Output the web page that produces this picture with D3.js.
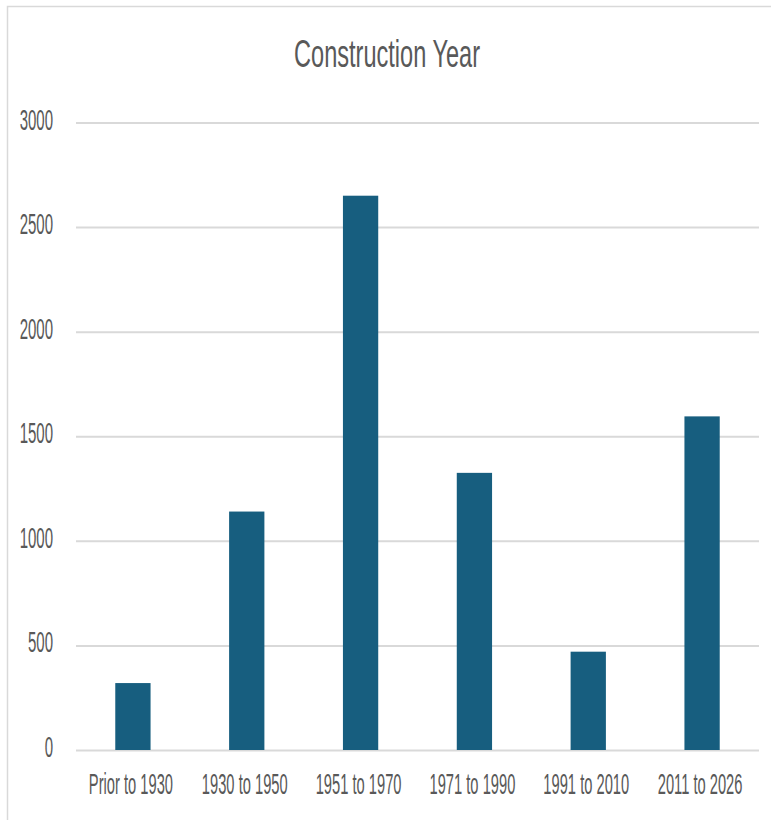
<!DOCTYPE html>
<html>
<head>
<meta charset="utf-8">
<script src="https://cdn.jsdelivr.net/npm/d3@7"></script>
<style>
  body { margin: 0; background: #fff; }
  text { font-family: "Liberation Sans", Arial, sans-serif; fill: #595959; }
</style>
</head>
<body>
<svg width="771" height="820"></svg>
<script>
// chart data
var categories = ["Prior to 1930", "1930 to 1950", "1951 to 1970", "1971 to 1990", "1991 to 2010", "2011 to 2026"];
var counts = [320, 1140, 2650, 1325, 470, 1595];
var yTicks = [0, 500, 1000, 1500, 2000, 2500, 3000];

var svg = d3.select("svg"),
    margin = {top: 122.5, right: 12, bottom: 70, left: 76},
    width = +svg.attr("width") - margin.left - margin.right,
    height = +svg.attr("height") - margin.top - margin.bottom;

// outer chart frame (only top and left edges fall inside the picture)
svg.append("rect")
    .attr("x", 7.5)
    .attr("y", 6.5)
    .attr("width", 900)
    .attr("height", 900)
    .attr("fill", "none")
    .attr("stroke", "#d9d9d9")
    .attr("stroke-width", 1.5);

var x = d3.scaleBand().domain(categories).range([0, width]).paddingInner(0.69).paddingOuter(0.345),
    y = d3.scaleLinear().domain([0, 3000]).range([height, 0]);

var g = svg.append("g")
    .attr("transform", "translate(" + margin.left + "," + margin.top + ")");

// title
svg.append("text")
    .attr("transform", "translate(387,67) scale(0.62,1)")
    .attr("text-anchor", "middle")
    .style("font-size", "38px")
    .text("Construction Year");

// y axis with gridlines
var yAxis = g.append("g")
    .attr("class", "axis axis--y")
    .call(d3.axisLeft(y).tickValues(yTicks).tickFormat(d3.format("d")).tickSize(-width).tickPadding(0));
yAxis.select(".domain").remove();
yAxis.selectAll(".tick line")
    .attr("stroke", "#d9d9d9")
    .attr("stroke-width", 2);
yAxis.selectAll(".tick text")
    .attr("x", 0)
    .attr("dy", null)
    .attr("transform", "translate(-23,6.5) scale(0.5,1)")
    .style("font-size", "30px")
    .style("fill", "#595959");

// bars
g.selectAll(".bar")
  .data(counts)
  .enter().append("rect")
    .attr("class", "bar")
    .attr("x", function(d, i) { return x(categories[i]); })
    .attr("y", function(d) { return y(d); })
    .attr("width", x.bandwidth())
    .attr("height", function(d) { return height - y(d); })
    .attr("fill", "#175e7f");

// x axis labels
var xAxis = g.append("g")
    .attr("class", "axis axis--x")
    .attr("transform", "translate(0," + height + ")")
    .call(d3.axisBottom(x).tickSize(0));
xAxis.select(".domain").remove();
xAxis.selectAll(".tick text")
    .attr("y", 0)
    .attr("dy", null)
    .attr("transform", "translate(-2,44) scale(0.49,1)")
    .style("font-size", "30px")
    .style("fill", "#595959");
</script>
</body>
</html>
